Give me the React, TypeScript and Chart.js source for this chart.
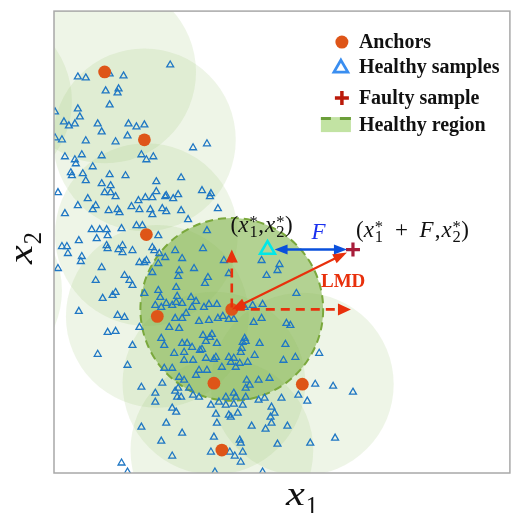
import React, { useEffect, useRef } from "react";
import { Chart, registerables } from "chart.js";

Chart.register(...registerables);

// ---- axis ranges (arbitrary units, no ticks shown) ----
const X_MIN = 0;
const X_MAX = 91.8;
const Y_MIN = 0;
const Y_MAX = 92.6;
const REGION_RADIUS = 18.4;

// ---- anchors (visible) ----
const anchors: [number, number][] = [
  [10.2, 80.4], [18.2, 66.8], [18.6, 47.8], [20.8, 31.4],
  [35.8, 32.8], [32.2, 18.0], [50.0, 17.8], [33.8, 4.6],
];
// anchors just outside the plotted window whose regions are still visible
const outerAnchors: [number, number][] = [[-14.8, 74.6], [-16.8, 36.6]];
const highlightedAnchor = 4;

// ---- the reference healthy sample and the fault ----
const xStar: [number, number] = [43.0, 44.8];
const faultShift = 17.2;

// ---- healthy samples ----
const healthySamples: [number, number][] = [
  [23.4, 81.8], [4.8, 79.4], [6.4, 79.2], [14.0, 79.6], [11.2, 80.0], [10.4, 76.6], [13.0, 77.0], [12.8, 76.2], [11.2, 73.8], [0.2, 72.4],
  [4.8, 73.0], [5.2, 71.4], [2.0, 70.4], [3.0, 69.6], [4.2, 70.0], [8.8, 70.0], [9.6, 68.4], [15.0, 70.0], [16.6, 69.4], [18.2, 69.8],
  [0.2, 67.2], [1.6, 66.8], [6.4, 66.6], [12.4, 66.4], [14.8, 67.6], [28.0, 65.2], [30.8, 66.0], [2.2, 63.4], [4.2, 62.8], [4.4, 62.0],
  [5.6, 63.8], [9.6, 63.6], [7.8, 61.4], [17.6, 63.8], [18.6, 62.8], [20.0, 63.4], [3.4, 60.2], [3.6, 59.6], [5.8, 60.0], [6.4, 58.6],
  [11.2, 59.8], [14.4, 59.6], [9.6, 58.0], [11.4, 57.6], [0.8, 56.2], [10.2, 56.2], [11.4, 56.2], [12.4, 55.4], [20.6, 58.4], [25.6, 59.2],
  [6.8, 55.0], [4.8, 53.6], [8.4, 53.6], [7.8, 52.8], [11.0, 52.6], [12.8, 52.8], [13.2, 52.2], [2.2, 52.0], [15.6, 53.4], [17.0, 54.6],
  [18.4, 55.2], [19.8, 55.2], [20.6, 56.4], [22.4, 55.4], [22.6, 55.6], [24.0, 55.0], [25.0, 55.8], [29.8, 56.6], [31.6, 56.0], [31.4, 55.4],
  [17.2, 52.8], [19.4, 52.8], [19.8, 51.8], [21.8, 53.0], [22.6, 52.4], [25.6, 52.6], [33.0, 53.0], [27.0, 50.8],
  [7.6, 48.8], [9.2, 48.8], [10.6, 48.8], [10.8, 47.6], [5.0, 46.6], [8.6, 47.0], [1.6, 45.4], [2.6, 45.4], [2.8, 44.0], [10.6, 45.6],
  [10.8, 45.0], [13.0, 44.8], [5.6, 43.4], [5.4, 42.4], [0.8, 41.0], [9.6, 41.2], [8.4, 38.6], [12.4, 36.2], [11.8, 35.6], [9.8, 35.0],
  [5.0, 32.4], [12.8, 31.6], [10.8, 28.2], [12.4, 28.4], [8.8, 23.8], [14.8, 0.2], [32.4, 0.2], [42.0, 0.2],
  [30.8, 48.6], [21.0, 47.6], [16.6, 49.6], [17.8, 49.6], [13.6, 49.0], [19.8, 45.2], [20.2, 44.6], [13.8, 45.6], [13.8, 44.2], [15.8, 44.6],
  [18.6, 42.6], [17.2, 42.2], [18.2, 42.2], [21.2, 44.0], [22.4, 43.2], [24.4, 44.6], [21.0, 42.0], [25.8, 43.0], [30.0, 45.0], [34.2, 42.6],
  [41.8, 42.6], [45.4, 41.8], [42.8, 39.6], [45.0, 40.6], [19.8, 40.2], [14.2, 39.6], [15.8, 37.6], [15.2, 38.6], [25.2, 40.6], [25.0, 39.4],
  [28.2, 41.0], [31.0, 39.2], [30.4, 38.0], [35.2, 40.0], [18.2, 36.0], [21.0, 36.6], [21.4, 35.2], [24.6, 37.2], [24.8, 35.4], [24.6, 34.2],
  [20.4, 33.6], [21.6, 33.2], [22.6, 34.0], [23.8, 33.6], [25.8, 34.0], [27.6, 35.2], [28.6, 34.4], [27.8, 33.2], [26.6, 32.0], [25.8, 31.0],
  [30.2, 33.2], [31.2, 33.8], [32.8, 33.8], [34.0, 31.4], [35.2, 30.8], [36.2, 30.8], [38.4, 33.2], [40.0, 33.6], [42.0, 33.8], [48.8, 36.0],
  [40.2, 30.2], [46.8, 30.0], [47.6, 29.6], [17.2, 29.2], [14.2, 31.2], [23.2, 29.2], [24.4, 31.0], [25.2, 29.0], [29.2, 30.4], [31.2, 30.6],
  [33.0, 31.0], [30.0, 27.6], [31.8, 27.8], [31.4, 27.2], [30.6, 26.4], [32.8, 26.0], [29.4, 24.6], [29.8, 24.8], [25.8, 26.0], [26.8, 26.0],
  [27.8, 25.2], [21.6, 27.0], [22.2, 25.6], [26.2, 24.2], [24.2, 24.0], [26.2, 22.6], [28.0, 22.6], [30.6, 23.0], [32.6, 23.2], [32.2, 22.8],
  [35.2, 23.2], [36.2, 23.0], [35.6, 22.2], [36.6, 21.2], [37.4, 22.0], [37.8, 25.0], [38.4, 27.0], [38.0, 26.2], [37.6, 24.2], [38.6, 26.4],
  [39.0, 22.2], [41.4, 26.0], [46.2, 22.6], [33.8, 21.2], [30.8, 20.6], [29.2, 20.6], [28.6, 19.6], [25.2, 19.2], [26.2, 18.6], [25.0, 17.0],
  [27.2, 17.0], [28.0, 15.6], [29.2, 15.2], [24.4, 16.4], [24.8, 15.2], [25.6, 15.2], [22.2, 21.0], [23.8, 21.0], [21.8, 18.0], [17.6, 17.2],
  [14.8, 21.6], [15.8, 25.6], [36.2, 16.0], [36.6, 15.2], [34.6, 15.2], [33.2, 14.2], [34.6, 13.6], [38.6, 17.0], [39.4, 17.6], [38.8, 18.6],
  [41.2, 18.6], [43.4, 19.0], [41.2, 14.6], [42.4, 15.0], [45.8, 15.0], [49.2, 15.6], [38.6, 15.2], [36.2, 13.8], [38.0, 13.6], [31.6, 13.6],
  [32.6, 11.8], [35.2, 11.6], [35.6, 11.2], [37.0, 12.0], [43.8, 13.2], [44.4, 12.0], [43.6, 11.2], [43.8, 10.0], [39.8, 9.4], [32.8, 10.0],
  [23.8, 13.0], [24.6, 12.2], [17.6, 9.2], [25.8, 8.0], [21.6, 6.4], [23.8, 3.4], [32.2, 7.2], [37.4, 6.6], [37.6, 6.0], [38.0, 4.2],
  [35.4, 4.2], [36.4, 3.4], [37.6, 2.2], [31.6, 4.2], [45.0, 5.8], [51.6, 6.0], [13.6, 2.0], [41.8, 31.0],
  [53.4, 24.0], [48.6, 23.2], [46.6, 25.8], [40.4, 23.6], [51.0, 14.4], [42.6, 8.8], [47.0, 9.4], [52.6, 17.8], [56.2, 17.4], [60.2, 16.2],
  [56.6, 7.0], [20.4, 16.0], [20.4, 14.2], [22.6, 10.0],
];

const legendLabels = ["Anchors", "Healthy samples", "Faulty sample", "Healthy region"];

const SERIF = '"Liberation Serif", "Times New Roman", serif';
const C_ANCHOR = "#de5518";
const C_SAMPLE = "#1f77c4";
const C_RED = "#e8300c";
const C_BLUE = "#0a50dc";

type Part = { t: string; it?: boolean; sub?: string; sup?: string; color?: string; gap?: number };

function drawMath(ctx: CanvasRenderingContext2D, parts: Part[], x: number, y: number, size: number, color: string, stretch = 1) {
  let cx = x;
  ctx.textAlign = "left";
  ctx.textBaseline = "alphabetic";
  for (const p of parts) {
    ctx.font = `${p.it ? "italic " : ""}${size}px ${SERIF}`;
    ctx.fillStyle = p.color || color;
    if (stretch !== 1) {
      ctx.save();
      ctx.translate(cx, y);
      ctx.scale(stretch, 1);
      ctx.fillText(p.t, 0, 0);
      ctx.restore();
    } else {
      ctx.fillText(p.t, cx, y);
    }
    cx += ctx.measureText(p.t).width * stretch + (p.gap || 0);
    if (p.sub || p.sup) {
      const ss = size * 0.72;
      ctx.font = `${ss}px ${SERIF}`;
      let w = 0;
      if (p.sup) {
        ctx.fillText(p.sup, cx + 1, y - size * 0.2);
        w = Math.max(w, ctx.measureText(p.sup).width);
      }
      if (p.sub) {
        ctx.fillText(p.sub, cx + 1, y + size * 0.25);
        w = Math.max(w, ctx.measureText(p.sub).width);
      }
      cx += w + 1.5;
    }
  }
  return cx - x;
}

function arrow(ctx: CanvasRenderingContext2D, x1: number, y1: number, x2: number, y2: number,
  color: string, lw: number, headLen: number, headW: number, both: boolean, dash: number[] = []) {
  const a = Math.atan2(y2 - y1, x2 - x1);
  const ca = Math.cos(a), sa = Math.sin(a);
  const sx = both ? x1 + ca * headLen * 0.8 : x1;
  const sy = both ? y1 + sa * headLen * 0.8 : y1;
  const ex = x2 - ca * headLen * 0.8;
  const ey = y2 - sa * headLen * 0.8;
  ctx.save();
  ctx.strokeStyle = color;
  ctx.fillStyle = color;
  ctx.lineWidth = lw;
  ctx.setLineDash(dash);
  ctx.beginPath();
  ctx.moveTo(sx, sy);
  ctx.lineTo(ex, ey);
  ctx.stroke();
  ctx.setLineDash([]);
  const head = (tx: number, ty: number, dx: number, dy: number) => {
    ctx.beginPath();
    ctx.moveTo(tx, ty);
    ctx.lineTo(tx - dx * headLen - dy * headW / 2, ty - dy * headLen + dx * headW / 2);
    ctx.lineTo(tx - dx * headLen + dy * headW / 2, ty - dy * headLen - dx * headW / 2);
    ctx.closePath();
    ctx.fill();
  };
  head(x2, y2, ca, sa);
  if (both) head(x1, y1, -ca, -sa);
  ctx.restore();
}

const regionPlugin = {
  id: "regions",
  beforeDatasetsDraw(chart: any) {
    const { ctx, chartArea: a, scales } = chart;
    const xs = scales.x, ys = scales.y;
    const r = xs.getPixelForValue(REGION_RADIUS) - xs.getPixelForValue(0);
    ctx.save();
    ctx.beginPath();
    ctx.rect(a.left, a.top, a.right - a.left, a.bottom - a.top);
    ctx.clip();
    for (const [ax, ay] of [...outerAnchors, ...anchors]) {
      ctx.beginPath();
      ctx.arc(xs.getPixelForValue(ax), ys.getPixelForValue(ay), r, 0, Math.PI * 2);
      ctx.fillStyle = "rgba(150,192,105,0.16)";
      ctx.fill();
    }
    const [hx, hy] = anchors[highlightedAnchor];
    ctx.beginPath();
    ctx.arc(xs.getPixelForValue(hx), ys.getPixelForValue(hy), r, 0, Math.PI * 2);
    ctx.fillStyle = "rgba(132,180,76,0.55)";
    ctx.fill();
    ctx.setLineDash([8, 5]);
    ctx.lineWidth = 2;
    ctx.strokeStyle = "#7aa83c";
    ctx.stroke();
    ctx.restore();
  },
};

const annotationPlugin = {
  id: "annotations",
  afterDatasetsDraw(chart: any) {
    const { ctx, chartArea: a, scales } = chart;
    const xs = scales.x, ys = scales.y;
    // frame
    ctx.save();
    ctx.strokeStyle = "#a8a8a8";
    ctx.lineWidth = 1.5;
    ctx.strokeRect(a.left, a.top, a.right - a.left, a.bottom - a.top);
    ctx.restore();

    const [hx, hy] = anchors[highlightedAnchor];
    const cx = xs.getPixelForValue(hx), cy = ys.getPixelForValue(hy);
    const sx = xs.getPixelForValue(xStar[0]), sy = ys.getPixelForValue(xStar[1]);
    const fx = xs.getPixelForValue(xStar[0] + faultShift), fy = ys.getPixelForValue(xStar[1]);

    // dashed axes from the anchor
    arrow(ctx, cx, cy - 2, cx, sy, C_RED, 2.6, 13, 12, false, [9, 6]);
    arrow(ctx, cx + 4, cy, fx - 2, cy, C_RED, 2.6, 13, 12, false, [9, 6]);
    // LMD arrow
    arrow(ctx, cx, cy, fx - 6, fy + 3, C_RED, 2.2, 14, 10, true);
    // F arrow
    arrow(ctx, sx + 7, sy, fx - 6, fy, C_BLUE, 2.4, 13, 10, true);

    // texts
    drawMath(ctx, [
      { t: "(" }, { t: "x", it: true, sub: "1", sup: "*" }, { t: ",", gap: 1 },
      { t: "x", it: true, sub: "2", sup: "*" }, { t: ")" },
    ], sx - 37, sy - 18, 23, "#111");
    drawMath(ctx, [{ t: "F", it: true }], sx + 44, sy - 11, 23, "#1a30f0");
    drawMath(ctx, [
      { t: "(" }, { t: "x", it: true, sub: "1", sup: "*" }, { t: "  +  " }, { t: "F", it: true, gap: 1 }, { t: ",", gap: 1 },
      { t: "x", it: true, sub: "2", sup: "*" }, { t: ")" },
    ], fx + 3, fy - 13, 23, "#111");
    ctx.save();
    ctx.font = `bold 19px ${SERIF}`;
    ctx.fillStyle = C_RED;
    ctx.textBaseline = "alphabetic";
    ctx.fillText("LMD", fx - 32, cy - 22);
    ctx.restore();
  },
  afterDraw(chart: any) {
    const { ctx, chartArea: a } = chart;
    // axis titles
    drawMath(ctx, [{ t: "x", it: true, sub: "1" }], (a.left + a.right) / 2 + 4, a.bottom + 32, 34, "#111", 1.25);
    ctx.save();
    ctx.translate(a.left - 22, (a.top + a.bottom) / 2 + 22);
    ctx.rotate(-Math.PI / 2);
    drawMath(ctx, [{ t: "x", it: true, sub: "2" }], 0, 0, 34, "#111", 1.25);
    ctx.restore();

    // legend
    const lx = a.right - 191;
    const rows = [a.top + 31, a.top + 56, a.top + 87, a.top + 114];
    ctx.save();
    // anchor marker
    ctx.fillStyle = C_ANCHOR;
    ctx.beginPath();
    ctx.arc(lx + 23, rows[0], 6.5, 0, Math.PI * 2);
    ctx.fill();
    // triangle
    ctx.strokeStyle = "#3a8ef0";
    ctx.lineWidth = 2.8;
    ctx.beginPath();
    const tr = 8;
    const tcy = rows[1] + 1;
    ctx.moveTo(lx + 22, tcy - tr);
    ctx.lineTo(lx + 22 + tr * 0.866, tcy + tr / 2);
    ctx.lineTo(lx + 22 - tr * 0.866, tcy + tr / 2);
    ctx.closePath();
    ctx.stroke();
    // plus
    ctx.strokeStyle = "#bb1a0a";
    ctx.lineWidth = 3.5;
    ctx.beginPath();
    ctx.moveTo(lx + 16, rows[2]);
    ctx.lineTo(lx + 30, rows[2]);
    ctx.moveTo(lx + 23, rows[2] - 7);
    ctx.lineTo(lx + 23, rows[2] + 7);
    ctx.stroke();
    // region patch
    ctx.fillStyle = "#c2e3a3";
    ctx.fillRect(lx + 2, rows[3] - 8, 30, 15);
    ctx.strokeStyle = "#6c9f3a";
    ctx.lineWidth = 3;
    ctx.beginPath();
    ctx.moveTo(lx + 2, rows[3] - 6.5);
    ctx.lineTo(lx + 12, rows[3] - 6.5);
    ctx.moveTo(lx + 21, rows[3] - 6.5);
    ctx.lineTo(lx + 32, rows[3] - 6.5);
    ctx.stroke();
    // labels
    ctx.fillStyle = "#111";
    ctx.font = `bold 20px ${SERIF}`;
    ctx.textBaseline = "middle";
    ctx.textAlign = "left";
    legendLabels.forEach((t, i) => ctx.fillText(t, lx + 40, rows[i] + 1));
    ctx.restore();
  },
};

export default function App() {
  const ref = useRef<HTMLCanvasElement | null>(null);
  useEffect(() => {
    if (!ref.current) return;
    const faulty = [{ x: xStar[0] + faultShift, y: xStar[1] }];
    const chart = new Chart(ref.current, {
      type: "scatter",
      data: {
        datasets: [
          {
            label: "Faulty sample",
            data: faulty,
            pointStyle: "cross",
            pointRadius: 7,
            borderColor: "#a81d3a",
            borderWidth: 3.2,
            backgroundColor: "#a81d3a",
          },
          {
            label: "x*",
            data: [{ x: xStar[0], y: xStar[1] }],
            pointStyle: "triangle",
            pointRadius: 8.5,
            borderColor: "#00e8e8",
            borderWidth: 2.6,
            backgroundColor: "rgba(0,0,0,0)",
          },
          {
            label: "Anchors",
            data: anchors.map(([x, y]) => ({ x, y })),
            pointStyle: "circle",
            pointRadius: 6.4,
            borderWidth: 0,
            backgroundColor: C_ANCHOR,
          },
          {
            label: "Healthy samples",
            data: healthySamples.map(([x, y]) => ({ x, y })),
            pointStyle: "triangle",
            pointRadius: 4,
            borderColor: C_SAMPLE,
            borderWidth: 1.3,
            backgroundColor: "rgba(0,0,0,0)",
          },
        ],
      },
      options: {
        responsive: false,
        animation: false,
        events: [],
        layout: { padding: { left: 54, top: 10, right: 8, bottom: 40 } },
        scales: {
          x: { type: "linear", min: X_MIN, max: X_MAX, display: false },
          y: { type: "linear", min: Y_MIN, max: Y_MAX, display: false },
        },
        plugins: { legend: { display: false }, tooltip: { enabled: false } },
      },
      plugins: [regionPlugin, annotationPlugin],
    });
    return () => chart.destroy();
  }, []);
  return (
    <div style={{ position: "fixed", left: 0, top: 0, width: 521, height: 513, background: "#fff" }}>
      <canvas ref={ref} width={521} height={513} style={{ width: 521, height: 513, display: "block" }} />
    </div>
  );
}
